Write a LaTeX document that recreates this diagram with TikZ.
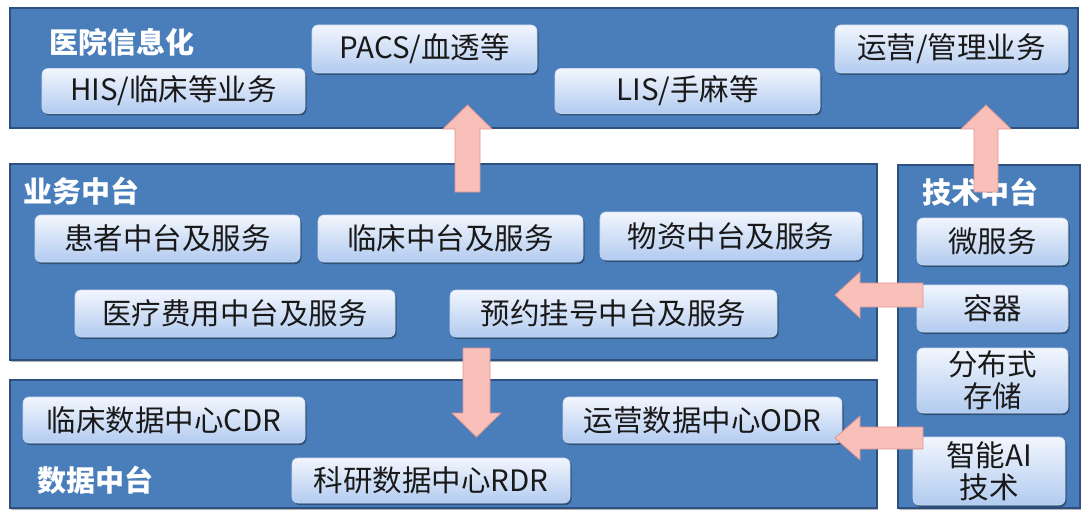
\documentclass[tikz,border=0pt]{standalone}
\usepackage{fontspec}
\setmainfont{Noto Sans CJK SC}
\usetikzlibrary{shadows}
\definecolor{panel}{RGB}{74,126,187}
\definecolor{panelborder}{RGB}{45,80,128}
\definecolor{boxtop}{RGB}{242,246,253}
\definecolor{boxbot}{RGB}{178,203,240}
\definecolor{boxborder}{RGB}{200,216,238}
\definecolor{arrfill}{RGB}{249,192,186}
\definecolor{arrdraw}{RGB}{222,148,144}
\definecolor{txt}{RGB}{25,25,25}
\begin{document}
\begin{tikzpicture}[x=1pt,y=-1pt,
  panelbox/.style={fill=panel,draw=panelborder,line width=1.4pt,inner sep=0pt,outer sep=0pt,anchor=north west,
    drop shadow={shadow xshift=1pt,shadow yshift=-1.5pt,opacity=0.3,fill=black}},
  item/.style={rounded corners=6pt,top color=boxtop,bottom color=boxbot,draw=boxborder,line width=0.6pt,
    text=txt,font=\fontsize{29.5}{32}\selectfont,inner sep=0pt,align=center,
    drop shadow={shadow xshift=1.5pt,shadow yshift=-2pt,opacity=0.35,fill=black}},
  paneltitle/.style={text=white,font=\fontsize{29}{32}\selectfont\bfseries,anchor=west,inner sep=0pt},
  blockarrow/.style={fill=arrfill,draw=arrdraw,line width=0.8pt,line join=miter}]
\useasboundingbox (0,0) rectangle (1089,516);
\fill[white] (0,0) rectangle (1089,516);

% panels
\node[panelbox,minimum width=1068,minimum height=120] (hosp) at (10,8) {};
\node[panelbox,minimum width=867,minimum height=196] (biz) at (10,164) {};
\node[panelbox,minimum width=182,minimum height=343] (tech) at (898,165) {};
\node[panelbox,minimum width=867,minimum height=128] (data) at (10,380) {};

% titles
\node[paneltitle] (thosp) at (49,42) {医院信息化};
\node[paneltitle] (tbiz) at (23,191) {业务中台};
\node[paneltitle] (ttech) at (922,192) {技术中台};
\node[paneltitle] (tdata) at (37,480) {数据中台};

% top items
\node[item,minimum width=225,minimum height=48] (pacs) at (424.5,49) {PACS/血透等};
\node[item,minimum width=263,minimum height=45] (his) at (173.5,91) {HIS/临床等业务};
\node[item,minimum width=265,minimum height=45] (lis) at (687.5,91) {LIS/手麻等};
\node[item,minimum width=233,minimum height=48] (ops) at (951.5,49) {运营/管理业务};

% business items
\node[item,minimum width=265,minimum height=47] (pat) at (167.5,238.5) {患者中台及服务};
\node[item,minimum width=265,minimum height=47] (cli) at (450.5,238.5) {临床中台及服务};
\node[item,minimum width=262,minimum height=48] (mat) at (731,236) {物资中台及服务};
\node[item,minimum width=320,minimum height=47] (fee) at (235,313.5) {医疗费用中台及服务};
\node[item,minimum width=327,minimum height=47] (reg) at (613.5,313.5) {预约挂号中台及服务};

% tech items
\node[item,minimum width=151,minimum height=47] (micro) at (992.5,241.5) {微服务};
\node[item,minimum width=151,minimum height=47] (cont) at (992.5,308.5) {容器};
\node[item,minimum width=151,minimum height=65] (dist) at (992.5,380.5) {分布式\\存储};
\node[item,minimum width=152,minimum height=68] (ai) at (989,471) {智能AI\\技术};

% data items
\node[item,minimum width=282,minimum height=46] (cdr) at (164,420) {临床数据中心CDR};
\node[item,minimum width=279,minimum height=46] (odr) at (702.5,420) {运营数据中心ODR};
\node[item,minimum width=278,minimum height=45] (rdr) at (431,480.5) {科研数据中心RDR};

% block arrows
\draw[blockarrow] (455,192) -- (455,129) -- (443,129) -- (467.5,105) -- (492,129) -- (480,129) -- (480,192) -- cycle;
\draw[blockarrow] (974,192) -- (974,129) -- (961,129) -- (986,105) -- (1011,129) -- (998,129) -- (998,192) -- cycle;
\draw[blockarrow] (463,348) -- (463,413) -- (452,413) -- (476.5,437) -- (501,413) -- (490,413) -- (490,348) -- cycle;
\draw[blockarrow] (923,283) -- (860,283) -- (860,272) -- (835,295) -- (860,318) -- (860,307) -- (923,307) -- cycle;
\draw[blockarrow] (923,427) -- (860,427) -- (860,416) -- (835,438) -- (860,460) -- (860,449) -- (923,449) -- cycle;
\end{tikzpicture}
\end{document}
